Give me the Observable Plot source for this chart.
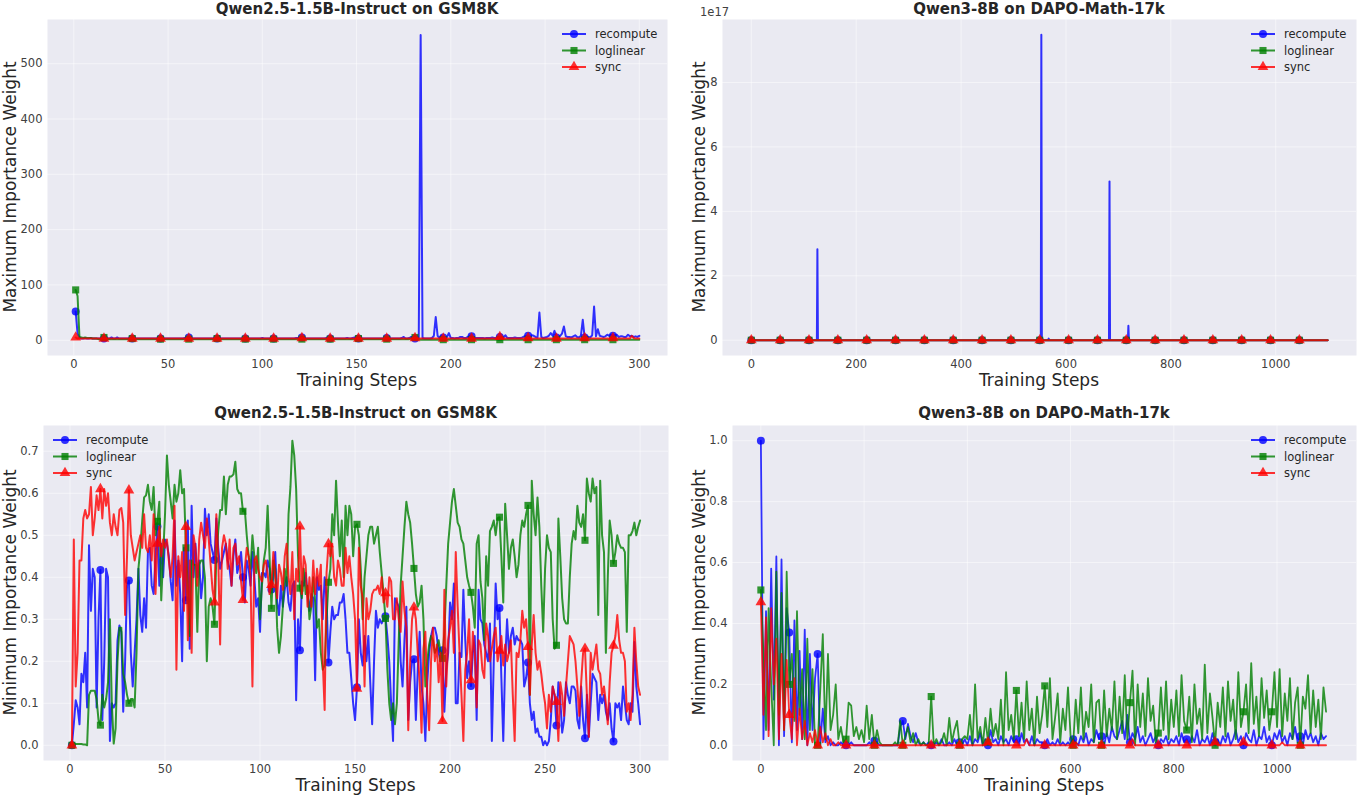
<!DOCTYPE html>
<html><head><meta charset="utf-8">
<script src="https://cdn.jsdelivr.net/npm/d3@7"></script>
<script src="https://cdn.jsdelivr.net/npm/@observablehq/plot@0.6"></script>
<style>
body{margin:0;background:#fff;}
#wrap{position:relative;width:1357px;height:798px;font-family:"DejaVu Sans",sans-serif;}
#wrap > div{position:absolute;}
</style></head><body><div id="wrap"></div>
<script>
// ---------------- data ----------------
const seriesNames = ["recompute", "loglinear", "sync"];
const seriesColors = ["blue", "green", "red"];
const seriesSymbols = ["circle", "square", "triangle"];

const panelTitles = ["Qwen2.5-1.5B-Instruct on GSM8K", "Qwen3-8B on DAPO-Math-17k", "Qwen2.5-1.5B-Instruct on GSM8K", "Qwen3-8B on DAPO-Math-17k"];
const xLabel = "Training Steps";
const yLabels = ["Maximum Importance Weight", "Minimum Importance Weight"];

const gsmXTicks = [0, 50, 100, 150, 200, 250, 300];
const gsmMaxYTicks = [0, 100, 200, 300, 400, 500];
const gsmMinYTicks = [0, 0.1, 0.2, 0.3, 0.4, 0.5, 0.6, 0.7];
const dapoXTicks = [0, 200, 400, 600, 800, 1000];
const dapoMaxYTicks = [0, 2, 4, 6, 8]; // x 1e17
const dapoMinYTicks = [0, 0.2, 0.4, 0.6, 0.8, 1.0];

// GSM8K: steps 1..300
const gsmSteps = d3.range(1, 301);

const gsmMaxRecompute = [
52,12,5,3,3,4,3,3,4,3,3,3,3,3,3,3,4,3,3,5,
3,3,5,3,3,3,3,3,3,3,3,3,3,3,3,3,3,3,3,3,
3,3,3,3,3,3,3,3,3,3,3,3,3,3,3,3,3,3,4,6,
5,3,3,3,3,3,3,3,3,3,3,3,3,3,3,3,3,3,3,3,
3,3,3,3,3,3,3,3,3,4,3,3,3,3,3,3,3,3,3,4,
3,3,3,3,3,3,3,3,3,3,3,3,3,3,3,3,3,4,4,5,
5,5,3,3,3,3,3,3,3,3,3,3,3,4,4,3,3,3,3,3,
3,3,3,3,4,3,3,4,5,4,3,3,3,3,3,3,3,3,3,3,
3,3,3,3,3,4,3,3,3,3,3,3,3,4,6,3,3,4,6,4,
3,4,4,552,4,3,3,3,3,4,8,42,8,4,8,5,5,6,13,4,
4,3,4,4,6,6,4,4,6,8,7,5,4,4,4,4,4,3,4,4,
4,5,4,4,5,6,4,5,9,4,4,4,4,5,4,4,4,5,7,8,
8,6,9,8,6,5,50,6,4,5,6,8,13,8,17,5,5,8,12,25,
7,6,6,5,7,9,6,5,8,37,5,7,6,5,9,61,7,20,8,7,
6,7,10,8,10,8,9,10,6,7,7,6,6,10,7,8,6,7,6,8];

const gsmMaxLoglinear = [
91,80,6,5,4,5,4,4,4,3,3,3,2,2,2,5,2,2,2,2,
2,2,2,2,2,2,2,2,2,2,3,2,2,2,2,2,2,2,2,2,
2,2,2,2,2,2,2,2,2,2,2,2,2,2,2,2,2,2,2,2,
2,2,2,2,2,2,2,2,2,2,2,2,2,2,2,3,2,2,2,2,
2,2,2,2,2,2,2,2,2,2,2,2,2,2,2,2,2,2,2,2,
2,2,2,2,2,2,2,2,2,2,2,2,2,2,2,2,2,2,2,2,
2,2,2,2,2,2,2,2,2,2,2,2,2,2,2,2,2,2,2,2,
2,2,2,2,2,2,2,2,2,2,3,2,2,2,2,2,2,2,2,2,
2,2,2,2,2,2,2,2,2,2,2,2,2,2,2,2,2,2,3,4,
5,3,2,1,1,1,1,1,1,1,1,1,1,1,1,1,1,1,1,1,
1,1,1,1,1,1,1,1,1,1,1,1,1,1,1,1,1,1,1,1,
1,1,1,1,1,1,1,1,1,1,1,1,1,1,1,1,1,1,1,1,
1,1,1,1,1,1,1,1,1,1,1,1,1,1,1,1,1,1,1,1,
1,1,1,1,1,1,1,1,1,1,1,1,1,1,1,1,1,1,1,1,
1,1,1,1,1,1,1,1,1,1,1,1,1,1,1,1,1,1,1,1];

const gsmMaxSync = [
5,3,3,3,3,3,3,3,3,3,3,3,3,3,3,3,3,3,3,3,
3,3,3,3,3,3,3,3,3,3,3,3,3,3,3,3,3,3,3,3,
3,3,3,3,3,3,3,3,3,3,3,3,3,3,3,3,3,3,3,3,
3,3,3,3,3,3,3,3,3,3,3,3,3,3,3,3,3,3,3,3,
3,3,3,3,3,3,3,3,3,3,3,3,3,3,3,3,3,3,3,3,
3,3,3,3,3,3,3,3,3,3,3,3,3,3,3,3,3,3,3,3,
4,3,3,3,3,3,3,3,3,3,3,3,3,3,3,3,3,3,3,3,
3,3,3,3,3,3,3,3,3,3,3,3,3,3,3,3,3,3,3,3,
3,3,3,3,3,3,3,3,3,3,3,3,3,3,3,3,3,3,3,3,
4,3,3,3,3,3,3,3,3,3,3,3,3,3,3,3,3,3,3,3,
3,3,3,3,3,3,3,3,3,3,3,3,3,3,3,3,3,3,3,3,
3,3,3,3,3,6,4,3,3,3,3,3,3,3,3,3,3,3,3,3,
4,3,3,3,3,3,3,3,3,3,3,3,3,3,3,3,3,3,3,3,
3,3,3,3,3,3,3,3,3,3,4,3,3,3,3,3,3,3,3,3,
3,3,3,3,3,4,3,3,3,3,3,3,3,3,3,8,4,3,3,3];

const gsmMinRecompute = [
0.00,0.05,0.107,0.09,0.05,0.17,0.15,0.22,0.09,0.476,
0.32,0.42,0.40,0.09,0.30,0.417,0.06,0.20,0.42,0.40,
0.01,0.10,0.09,0.10,0.25,0.285,0.27,0.08,0.20,0.38,
0.392,0.22,0.14,0.22,0.30,0.42,0.31,0.27,0.35,0.28,
0.46,0.47,0.38,0.36,0.45,0.521,0.38,0.48,0.40,0.49,
0.48,0.45,0.39,0.345,0.535,0.38,0.44,0.36,0.20,0.47,
0.345,0.535,0.23,0.57,0.40,0.48,0.40,0.44,0.35,0.40,
0.563,0.50,0.55,0.48,0.46,0.441,0.54,0.47,0.42,0.44,
0.46,0.48,0.44,0.42,0.38,0.45,0.49,0.41,0.43,0.46,
0.40,0.34,0.44,0.42,0.38,0.46,0.40,0.33,0.35,0.27,
0.41,0.41,0.40,0.44,0.42,0.371,0.40,0.46,0.34,0.31,
0.38,0.33,0.37,0.40,0.34,0.32,0.38,0.39,0.107,0.30,
0.226,0.39,0.38,0.41,0.36,0.32,0.36,0.35,0.155,0.40,
0.37,0.38,0.30,0.40,0.35,0.197,0.27,0.33,0.30,0.31,
0.31,0.34,0.34,0.36,0.30,0.22,0.22,0.16,0.10,0.06,
0.138,0.30,0.22,0.19,0.26,0.20,0.26,0.15,0.05,0.20,
0.32,0.28,0.30,0.29,0.30,0.307,0.26,0.20,0.10,0.01,
0.35,0.34,0.33,0.20,0.14,0.25,0.33,0.06,0.15,0.20,
0.205,0.06,0.18,0.27,0.14,0.10,0.01,0.15,0.22,0.26,
0.28,0.28,0.26,0.22,0.20,0.226,0.08,0.18,0.22,0.34,
0.30,0.385,0.10,0.10,0.22,0.21,0.37,0.25,0.16,0.20,
0.141,0.22,0.26,0.06,0.37,0.30,0.29,0.24,0.22,0.20,
0.29,0.01,0.20,0.385,0.30,0.327,0.16,0.01,0.20,0.30,
0.22,0.26,0.28,0.24,0.26,0.25,0.25,0.24,0.14,0.16,
0.197,0.10,0.06,0.08,0.03,0.04,0.02,0.02,0.00,0.01,
0.00,0.01,0.06,0.14,0.12,0.047,0.15,0.11,0.03,0.06,
0.15,0.12,0.10,0.14,0.14,0.13,0.06,0.04,0.14,0.06,
0.017,0.12,0.02,0.10,0.17,0.16,0.15,0.06,0.12,0.10,
0.12,0.08,0.06,0.10,0.04,0.009,0.10,0.09,0.10,0.06,
0.14,0.10,0.06,0.05,0.10,0.08,0.246,0.14,0.10,0.05];

const gsmMinLoglinear = [
0.00,0.003,0.003,0.003,0.003,0.003,0.002,0.002,0.00,0.12,
0.13,0.13,0.13,0.11,0.06,0.048,0.12,0.09,0.11,0.15,
0.30,0.10,0.004,0.04,0.20,0.28,0.28,0.17,0.15,0.12,
0.10,0.11,0.11,0.09,0.22,0.42,0.47,0.535,0.59,0.595,
0.62,0.58,0.56,0.615,0.50,0.533,0.58,0.345,0.45,0.55,
0.69,0.62,0.58,0.54,0.62,0.58,0.60,0.655,0.60,0.61,
0.47,0.37,0.26,0.44,0.43,0.43,0.27,0.43,0.44,0.44,
0.40,0.20,0.33,0.35,0.33,0.288,0.45,0.51,0.56,0.56,
0.64,0.55,0.62,0.64,0.64,0.645,0.675,0.61,0.60,0.60,
0.557,0.56,0.50,0.45,0.42,0.50,0.45,0.41,0.47,0.30,
0.38,0.44,0.47,0.57,0.45,0.326,0.44,0.42,0.28,0.22,
0.26,0.33,0.42,0.38,0.55,0.615,0.725,0.69,0.61,0.45,
0.374,0.35,0.42,0.36,0.38,0.30,0.33,0.40,0.34,0.28,
0.30,0.22,0.18,0.19,0.30,0.388,0.42,0.55,0.50,0.63,
0.53,0.45,0.535,0.40,0.57,0.50,0.57,0.55,0.45,0.52,
0.526,0.50,0.42,0.30,0.40,0.45,0.50,0.52,0.52,0.48,
0.50,0.52,0.46,0.41,0.36,0.302,0.18,0.10,0.06,0.10,
0.05,0.10,0.25,0.38,0.45,0.52,0.58,0.55,0.53,0.48,
0.421,0.36,0.33,0.34,0.38,0.30,0.14,0.20,0.24,0.26,
0.25,0.22,0.23,0.25,0.22,0.207,0.27,0.38,0.48,0.53,
0.58,0.61,0.57,0.53,0.52,0.49,0.48,0.44,0.40,0.38,
0.364,0.33,0.28,0.48,0.50,0.39,0.35,0.25,0.45,0.38,
0.51,0.52,0.535,0.50,0.54,0.543,0.45,0.34,0.575,0.50,
0.42,0.47,0.49,0.45,0.40,0.43,0.50,0.535,0.52,0.55,
0.571,0.12,0.63,0.55,0.50,0.59,0.52,0.38,0.27,0.42,
0.50,0.47,0.46,0.30,0.23,0.238,0.54,0.45,0.35,0.30,
0.29,0.29,0.40,0.48,0.51,0.49,0.57,0.53,0.52,0.55,
0.488,0.635,0.60,0.58,0.635,0.60,0.615,0.31,0.63,0.50,
0.46,0.22,0.40,0.535,0.50,0.433,0.46,0.50,0.48,0.47,
0.47,0.46,0.27,0.50,0.50,0.51,0.53,0.50,0.52,0.535];

const gsmMinSync = [
0.00,0.49,0.14,0.22,0.44,0.44,0.54,0.56,0.54,0.55,
0.615,0.50,0.54,0.595,0.56,0.61,0.54,0.61,0.57,0.60,
0.53,0.50,0.55,0.52,0.50,0.56,0.565,0.53,0.31,0.45,
0.607,0.50,0.47,0.44,0.46,0.48,0.50,0.47,0.55,0.47,
0.46,0.50,0.44,0.55,0.36,0.48,0.52,0.45,0.49,0.47,
0.49,0.44,0.40,0.45,0.57,0.18,0.45,0.40,0.46,0.32,
0.52,0.25,0.44,0.22,0.50,0.47,0.38,0.49,0.53,0.50,
0.47,0.54,0.49,0.43,0.37,0.34,0.55,0.45,0.24,0.47,
0.50,0.48,0.42,0.49,0.38,0.47,0.48,0.43,0.45,0.39,
0.346,0.42,0.47,0.45,0.40,0.14,0.44,0.45,0.42,0.40,
0.39,0.43,0.44,0.41,0.36,0.382,0.46,0.40,0.35,0.43,
0.41,0.37,0.45,0.48,0.40,0.36,0.46,0.30,0.42,0.39,
0.521,0.36,0.45,0.43,0.33,0.40,0.33,0.44,0.36,0.42,
0.38,0.43,0.20,0.084,0.41,0.479,0.45,0.48,0.40,0.38,
0.44,0.42,0.38,0.38,0.47,0.41,0.45,0.40,0.36,0.30,
0.135,0.47,0.38,0.35,0.14,0.35,0.30,0.32,0.36,0.37,
0.37,0.38,0.36,0.40,0.34,0.362,0.33,0.40,0.39,0.30,
0.30,0.35,0.30,0.27,0.39,0.32,0.28,0.036,0.20,0.30,
0.328,0.30,0.22,0.15,0.03,0.23,0.27,0.12,0.036,0.20,
0.28,0.20,0.24,0.15,0.22,0.058,0.37,0.14,0.25,0.28,
0.32,0.22,0.46,0.33,0.22,0.12,0.01,0.18,0.22,0.30,
0.155,0.27,0.22,0.09,0.25,0.24,0.18,0.16,0.29,0.26,
0.20,0.23,0.26,0.28,0.20,0.225,0.26,0.19,0.24,0.20,
0.22,0.25,0.12,0.01,0.22,0.21,0.25,0.32,0.28,0.30,
0.234,0.12,0.24,0.31,0.22,0.18,0.20,0.17,0.13,0.10,
0.04,0.12,0.08,0.14,0.12,0.103,0.01,0.15,0.12,0.07,
0.14,0.20,0.26,0.25,0.24,0.20,0.14,0.07,0.15,0.22,
0.23,0.12,0.02,0.22,0.18,0.21,0.24,0.18,0.17,0.12,
0.14,0.10,0.05,0.15,0.22,0.237,0.26,0.31,0.25,0.22,
0.22,0.20,0.08,0.10,0.06,0.12,0.28,0.20,0.14,0.12];

// DAPO max (units of 1e17)
const dapoMaxRecomputeSteps = [0,55,110,125,126,127,165,220,275,330,385,440,495,550,552,553,554,566,567,568,605,660,682,683,684,715,718,719,720,770,825,880,935,990,1045,1099];
const dapoMaxRecompute =      [0,0,0,0,2.82,0,0,0,0,0,0,0,0,0,0,9.48,0,0,0.05,0,0,0,0,4.93,0,0,0,0.45,0,0,0,0,0,0,0,0];
const dapoMaxOtherSteps = [0,55,110,165,220,275,330,385,440,495,550,605,660,715,770,825,880,935,990,1045,1099];
const dapoMaxLoglinear =  [0,0,0,0,0,0,0,0,0,0,0,0,0,0,0,0,0,0,0,0,0];
const dapoMaxSync =       [0,0,0,0,0,0,0,0,0,0,0,0,0,0,0,0,0,0,0,0,0];

// DAPO min: steps 0,5,...,1095
const dapoMinSteps = d3.range(0, 1100, 5);
const dapoMinRecompute = [
1.00,0.02,0.44,0.05,0.58,0.15,0.62,0.00,0.61,0.03,0.45,0.37,0.01,0.41,0.05,0.31,0.02,0.38,0.00,0.30,
0.05,0.22,0.30,0.00,0.12,0.01,0.03,0.00,0.01,0.00,0.00,0.01,0.00,0.00,0.00,0.01,0.00,0.00,0.00,0.00,
0.00,0.00,0.01,0.00,0.015,0.01,0.00,0.00,0.00,0.00,0.00,0.00,0.00,0.00,0.06,0.08,0.02,0.07,0.03,0.01,
0.04,0.01,0.00,0.01,0.00,0.01,0.00,0.00,0.01,0.00,0.02,0.00,0.00,0.01,0.00,0.02,0.00,0.01,0.00,0.02,
0.00,0.03,0.00,0.02,0.01,0.04,0.00,0.02,0.00,0.05,0.01,0.02,0.00,0.03,0.01,0.02,0.00,0.03,0.01,0.02,
0.00,0.04,0.01,0.02,0.00,0.03,0.00,0.02,0.01,0.01,0.00,0.02,0.00,0.01,0.00,0.02,0.00,0.01,0.00,0.01,
0.00,0.02,0.01,0.00,0.03,0.01,0.04,0.00,0.02,0.01,0.05,0.02,0.03,0.00,0.04,0.01,0.06,0.03,0.02,0.05,
0.08,0.02,0.10,0.01,0.04,0.02,0.06,0.01,0.03,0.00,0.02,0.04,0.01,0.03,0.00,0.02,0.01,0.03,0.00,0.02,
0.01,0.03,0.00,0.04,0.01,0.02,0.00,0.03,0.01,0.05,0.00,0.02,0.01,0.03,0.00,0.04,0.01,0.02,0.00,0.03,
0.01,0.04,0.00,0.02,0.05,0.01,0.03,0.00,0.04,0.02,0.01,0.05,0.00,0.03,0.02,0.06,0.01,0.03,0.00,0.04,
0.02,0.05,0.01,0.03,0.00,0.04,0.02,0.06,0.01,0.03,0.00,0.05,0.02,0.04,0.01,0.03,0.00,0.04,0.02,0.03];

const dapoMinLoglinear = [
0.51,0.30,0.05,0.45,0.20,0.00,0.57,0.10,0.50,0.05,0.57,0.20,0.30,0.08,0.44,0.10,0.25,0.02,0.35,0.05,
0.25,0.00,0.00,0.18,0.365,0.02,0.30,0.05,0.10,0.20,0.02,0.06,0.01,0.02,0.14,0.13,0.03,0.06,0.02,0.05,
0.01,0.13,0.02,0.10,0.00,0.05,0.01,0.00,0.00,0.00,0.00,0.00,0.01,0.00,0.08,0.00,0.03,0.06,0.01,0.04,
0.00,0.02,0.00,0.01,0.00,0.00,0.16,0.00,0.02,0.00,0.01,0.04,0.00,0.09,0.01,0.05,0.08,0.00,0.02,0.03,
0.02,0.10,0.00,0.20,0.02,0.06,0.00,0.09,0.01,0.12,0.03,0.07,0.02,0.15,0.00,0.24,0.05,0.10,0.02,0.18,
0.03,0.14,0.02,0.21,0.05,0.12,0.00,0.16,0.04,0.10,0.195,0.06,0.22,0.02,0.09,0.17,0.01,0.12,0.05,0.19,
0.03,0.00,0.15,0.04,0.19,0.02,0.11,0.06,0.20,0.01,0.14,0.15,0.00,0.18,0.03,0.12,0.05,0.21,0.02,0.16,
0.04,0.23,0.02,0.14,0.245,0.00,0.20,0.06,0.17,0.03,0.22,0.08,0.13,0.01,0.04,0.19,0.05,0.21,0.02,0.15,
0.06,0.18,0.03,0.23,0.08,0.05,0.16,0.01,0.20,0.07,0.12,0.02,0.265,0.04,0.17,0.09,0.00,0.14,0.06,0.19,
0.03,0.21,0.08,0.15,0.02,0.24,0.06,0.11,0.20,0.04,0.27,0.07,0.16,0.03,0.22,0.09,0.18,0.05,0.11,0.24,
0.06,0.25,0.03,0.17,0.08,0.22,0.02,0.14,0.19,0.00,0.16,0.12,0.23,0.04,0.18,0.06,0.15,0.02,0.19,0.11];

const dapoMinSync = [
0.47,0.10,0.42,0.03,0.45,0.20,0.35,0.02,0.30,0.05,0.28,0.10,0.02,0.22,0.00,0.12,0.02,0.08,0.00,0.04,
0.01,0.05,0.00,0.06,0.01,0.04,0.00,0.02,0.00,0.00,0.01,0.00,0.00,0.00,0.00,0.00,0.00,0.00,0.00,0.00,
0,0,0,0,0,0,0,0,0,0,0,0,0,0,0,0,0,0,0,0,
0,0,0,0,0,0,0,0,0,0,0,0,0,0,0,0,0,0,0,0,
0,0,0,0,0,0,0,0,0.01,0,0,0,0,0,0,0,0,0,0,0,
0,0,0,0.02,0,0,0,0,0,0,0,0,0,0,0,0,0,0,0,0,
0,0,0.01,0,0,0,0,0,0,0,0,0,0,0,0,0,0,0,0,0,
0,0,0,0,0.02,0,0,0,0,0,0,0,0,0,0,0,0,0,0,0,
0,0,0,0,0,0,0,0,0,0,0,0,0,0,0,0,0.01,0,0,0,
0,0,0,0,0,0,0,0.01,0,0,0,0,0,0,0,0,0,0,0,0,
0,0,0.01,0,0,0,0,0,0,0,0,0,0,0,0,0,0,0,0,0];

// ---------------- drawing ----------------
const wrap = document.getElementById("wrap");
const symbolTypes = [d3.symbolCircle, d3.symbolSquare, d3.symbolTriangle];
const FONT = "DejaVu Sans";

function makePanel(cfg) {
  const marks = [
    Plot.frame({fill: "#eaeaf2", stroke: null}),
    Plot.gridX(cfg.xTicks, {stroke: "white", strokeOpacity: 0.5, strokeWidth: 1}),
    Plot.gridY(cfg.yTicks, {stroke: "white", strokeOpacity: 0.5, strokeWidth: 1})
  ];
  cfg.series.forEach((s, k) => {
    const rows = s.steps.map((x, i) => ({x, y: s.values[i]}));
    marks.push(Plot.line(rows, {x: "x", y: "y", stroke: seriesColors[k], strokeOpacity: 0.8, strokeWidth: cfg.lw}));
    marks.push(Plot.dot(rows.filter(d => cfg.isMarker(d.x)), {x: "x", y: "y", symbol: seriesSymbols[k], r: 4, fill: seriesColors[k], fillOpacity: 0.8}));
  });
  marks.push(Plot.axisX(cfg.xTicks, {tickSize: 0, tickPadding: 4, label: null, tickFormat: d => String(d), fontSize: 11.5}));
  marks.push(Plot.axisY(cfg.yTicks, {tickSize: 0, tickPadding: 5, label: null, tickFormat: cfg.yFormat, fontSize: 11.5}));

  const svg = Plot.plot({
    width: cfg.width, height: cfg.height,
    marginLeft: cfg.m[0], marginTop: cfg.m[1], marginRight: cfg.m[2], marginBottom: cfg.m[3],
    x: {domain: cfg.xDomain, label: null},
    y: {domain: cfg.yDomain, label: null},
    style: {background: "transparent", fontFamily: FONT, fontSize: "11.5px", color: "#404040", overflow: "visible"},
    marks
  });
  const g = d3.select(svg);
  const cx = (cfg.m[0] + cfg.width - cfg.m[2]) / 2;
  const cy = (cfg.m[1] + cfg.height - cfg.m[3]) / 2;
  g.append("text").attr("x", cx).attr("y", cfg.titleY).attr("text-anchor", "middle")
    .attr("font-family", FONT).attr("font-weight", "bold").attr("font-size", 15).attr("fill", "#262626").text(cfg.title);
  g.append("text").attr("x", cx).attr("y", cfg.xLabelY).attr("text-anchor", "middle")
    .attr("font-family", FONT).attr("font-size", 17).attr("fill", "#262626").text(xLabel);
  g.append("text").attr("transform", `translate(${cfg.yLabelX},${cy}) rotate(-90)`).attr("text-anchor", "middle")
    .attr("font-family", FONT).attr("font-size", 17).attr("fill", "#262626").text(cfg.ylabel);
  if (cfg.offsetText) {
    g.append("text").attr("x", cfg.offsetText[1]).attr("y", cfg.offsetText[2]).attr("text-anchor", "start")
      .attr("font-family", FONT).attr("font-size", 11.5).attr("fill", "#404040").text(cfg.offsetText[0]);
  }
  // legend
  const lg = g.append("g").attr("text-anchor", "start");
  seriesNames.forEach((name, k) => {
    const y = cfg.legend[1] + k * 16.5;
    const x0 = cfg.legend[0];
    lg.append("line").attr("x1", x0).attr("x2", x0 + 24).attr("y1", y).attr("y2", y)
      .attr("stroke", seriesColors[k]).attr("stroke-opacity", 0.8).attr("stroke-width", 2);
    lg.append("path").attr("d", d3.symbol(symbolTypes[k], 50)()).attr("transform", `translate(${x0 + 12},${y})`)
      .attr("fill", seriesColors[k]).attr("fill-opacity", 0.8);
    lg.append("text").attr("x", x0 + 33).attr("y", y).attr("dy", "0.35em").attr("text-anchor", "start")
      .attr("font-family", FONT).attr("font-size", 11.5).attr("fill", "#262626").text(name);
  });
  const div = document.createElement("div");
  div.style.left = cfg.left + "px";
  div.style.top = cfg.top + "px";
  div.style.width = cfg.width + "px";
  div.style.height = cfg.height + "px";
  div.appendChild(svg);
  wrap.appendChild(div);
}

const gsmMarker = x => (x - 1) % 15 === 0;
const dapoMarker = x => x % 55 === 0 && x <= 1045;
const fmt1 = d3.format(".1f");

makePanel({
  left: 0, top: 0, width: 680, height: 400, m: [47, 19, 13, 45], lw: 2,
  xDomain: [-13.95, 314.95], yDomain: [-27.6, 579.9],
  xTicks: gsmXTicks, yTicks: gsmMaxYTicks, yFormat: d => String(d),
  series: [{steps: gsmSteps, values: gsmMaxRecompute}, {steps: gsmSteps, values: gsmMaxLoglinear}, {steps: gsmSteps, values: gsmMaxSync}],
  isMarker: gsmMarker, title: panelTitles[0], ylabel: yLabels[0],
  titleY: 14, xLabelY: 386, yLabelX: 16, legend: [562, 34]
});
makePanel({
  left: 680, top: 0, width: 677, height: 400, m: [42, 19, 1, 45], lw: 2,
  xDomain: [-54.95, 1153.95], yDomain: [-0.474, 9.954],
  xTicks: dapoXTicks, yTicks: dapoMaxYTicks, yFormat: d => String(d),
  series: [{steps: dapoMaxRecomputeSteps, values: dapoMaxRecompute}, {steps: dapoMaxOtherSteps, values: dapoMaxLoglinear}, {steps: dapoMaxOtherSteps, values: dapoMaxSync}],
  isMarker: dapoMarker, title: panelTitles[1], ylabel: yLabels[0],
  titleY: 14, xLabelY: 386, yLabelX: 25, legend: [571, 34], offsetText: ["1e17", 20, 16]
});
makePanel({
  left: 0, top: 400, width: 680, height: 398, m: [43, 25, 12, 38], lw: 2,
  xDomain: [-13.95, 314.95], yDomain: [-0.03625, 0.76125],
  xTicks: gsmXTicks, yTicks: gsmMinYTicks, yFormat: fmt1,
  series: [{steps: gsmSteps, values: gsmMinRecompute}, {steps: gsmSteps, values: gsmMinLoglinear}, {steps: gsmSteps, values: gsmMinSync}],
  isMarker: gsmMarker, title: panelTitles[2], ylabel: yLabels[1],
  titleY: 18, xLabelY: 391, yLabelX: 16, legend: [53, 40]
});
makePanel({
  left: 680, top: 400, width: 677, height: 398, m: [52, 25, 1, 38], lw: 1.8,
  xDomain: [-54.95, 1153.95], yDomain: [-0.05, 1.05],
  xTicks: dapoXTicks, yTicks: dapoMinYTicks, yFormat: fmt1,
  series: [{steps: dapoMinSteps, values: dapoMinRecompute}, {steps: dapoMinSteps, values: dapoMinLoglinear}, {steps: dapoMinSteps, values: dapoMinSync}],
  isMarker: dapoMarker, title: panelTitles[3], ylabel: yLabels[1],
  titleY: 18, xLabelY: 391, yLabelX: 25, legend: [571, 40]
});
</script>
</body></html>
